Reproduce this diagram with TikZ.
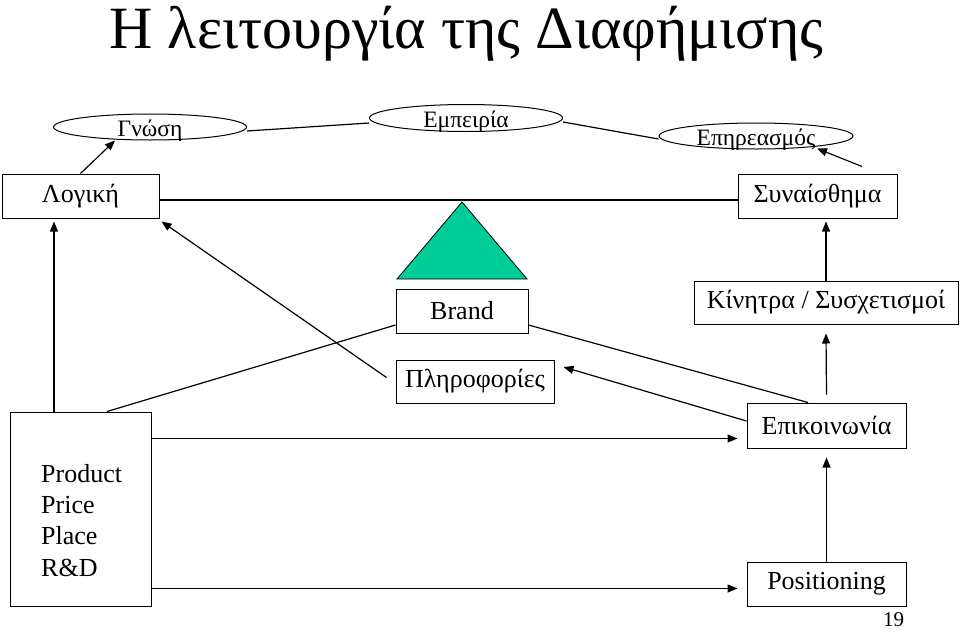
\documentclass[tikz,border=0pt]{standalone}
\usepackage{fontspec}
\setmainfont{Liberation Serif}
\usetikzlibrary{arrows.meta,calc,shapes.geometric}
\definecolor{trigreen}{RGB}{0,204,153}
\begin{document}
\begin{tikzpicture}[x=1pt,y=-1pt,
  box/.style={draw, line width=1pt, inner sep=0pt, font=\fontsize{26}{30}\selectfont},
  oval/.style={draw, ellipse, line width=1pt, inner sep=0pt, text height=18pt, text depth=0pt, font=\fontsize{23.5}{26}\selectfont},
  conn/.style={line width=1.2pt},
  arr/.style={line width=1.2pt, -{Triangle[length=10pt,width=8pt]}}]
\useasboundingbox (0,0) rectangle (960,632);
\fill[white] (0,0) rectangle (960,632);

\node[anchor=base, inner sep=0pt, text height=42pt, font=\fontsize{60}{68}\selectfont] (title) at (466.5,48) {Η λειτουργία της Διαφήμισης};

% ellipses
\node[oval, minimum width=193, minimum height=26] (gnosi) at (150,127) {Γνώση};
\node[oval, minimum width=193, minimum height=27] (empeiria) at (466,118) {Εμπειρία};
\node[oval, minimum width=194, minimum height=26] (epir) at (756,136) {Επηρεασμός};

% boxes
\node[box, minimum width=157, minimum height=44] (logiki) at (80.5,196) {Λογική};
\node[box, minimum width=159, minimum height=44] (synais) at (817.5,196) {Συναίσθημα};
\node[box, minimum width=132, minimum height=44] (brand) at (462,311) {Brand};
\node[box, minimum width=158, minimum height=43] (plir) at (475,381.5) {Πληροφορίες};
\node[box, minimum width=264, minimum height=43] (kin) at (826,302.5) {Κίνητρα / Συσχετισμοί};
\node[box, minimum width=159, minimum height=45] (epik) at (826.5,425.5) {Επικοινωνία};
\node[box, minimum width=159, minimum height=44] (pos) at (826.5,584) {Positioning};
\node[box, minimum width=141, minimum height=194] (prod) at (80.5,509) {};
\node[align=left, anchor=north west, inner sep=0pt, font=\fontsize{26}{31.3}\selectfont] (prodtxt) at (41,464) {Product\\Price\\Place\\R\&D};

\node[font=\fontsize{21}{24}\selectfont, inner sep=0pt] (page) at (893.5,620) {19};

% triangle
\filldraw[fill=trigreen, draw=black, line width=0.8pt] (397,279) -- (462,202) -- (527,279) -- cycle;

% connectors
\draw[conn] ([yshift=-4pt]gnosi.east) -- ([yshift=-5pt]empeiria.west);
\draw[conn] ([yshift=-4pt]empeiria.east) -- ([yshift=-3pt]epir.west);
\draw[arr] (logiki.north) -- ([xshift=-35pt]gnosi.south);
\draw[arr] ([xshift=44.5pt,yshift=7pt]synais.north) -- ([xshift=61pt,yshift=1pt]epir.south);
\draw[conn] ([yshift=-4pt]logiki.east) -- ([yshift=-4pt]synais.west);

\draw[arr, shorten >=3pt] (kin.north) -- (kin.north |- synais.south);
\draw[arr] ([yshift=8pt]epik.north) -- ([yshift=-9pt]kin.south);
\draw[arr, shorten >=9pt] (pos.north) -- (pos.north |- epik.south);

\coordinate (pa) at ([xshift=-26.5pt]prod.north);
\draw[arr, shorten >=3pt] (pa) -- (pa |- logiki.south);
\draw[conn] ([xshift=26.5pt]prod.north) -- ([yshift=-14pt]brand.west);
\draw[arr] ([xshift=-9pt,yshift=4pt]plir.west) -- ([xshift=2pt,yshift=-3pt]logiki.south east);
\draw[conn] ([yshift=-14pt]brand.east) -- ([xshift=-18.5pt]epik.north);
\draw[arr] ([yshift=4.5pt]epik.west) -- ([xshift=9pt,yshift=14.5pt]plir.east);

\coordinate (p1) at ([yshift=-27pt]prod.north east);
\draw[arr, shorten >=9pt] (p1) -- (p1 -| epik.west);
\coordinate (p2) at ([yshift=18pt]prod.south east);
\draw[arr, shorten >=9pt] (p2) -- (p2 -| pos.west);
\end{tikzpicture}
\end{document}
